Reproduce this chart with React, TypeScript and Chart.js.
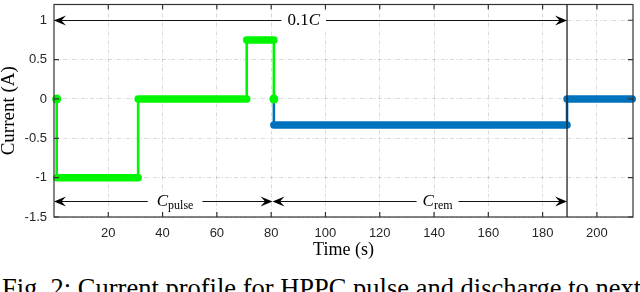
import React, { useEffect, useRef } from 'react';
import { Chart, registerables } from 'chart.js';

Chart.register(...registerables);

// ---- data ----
const pulseTime = [1, 1, 31, 31, 71, 71, 81, 81];
const pulseCurrent = [0, -1, -1, 0, 0, 0.75, 0.75, 0];
const remTime = [81, 81, 189, 189, 213];
const remCurrent = [0, -0.33, -0.33, 0, 0];

const xTickValues = [20, 40, 60, 80, 100, 120, 140, 160, 180, 200];
const yTickValues = [-1.5, -1, -0.5, 0, 0.5, 1];
const xLimits = [0, 213.3];
const yLimits = [-1.5, 1.2];

const dividerTime = 189;
// spans: [from, to, level, labelAt]
const spanTotal = [0, 189, 1, 92];
const spanPulse = [0, 80.5, -1.3, 44.6];
const spanRem = [80.5, 189, -1.3, 141.3];
const labelTotal = [{ t: '0.1', italic: false, sub: false }, { t: 'C', italic: true, sub: false }];
const labelPulse = [{ t: 'C', italic: true, sub: false }, { t: 'pulse', italic: false, sub: true }];
const labelRem = [{ t: 'C', italic: true, sub: false }, { t: 'rem', italic: false, sub: true }];

const GREEN = '#00f500';
const BLUE = '#0072BD';
const AXIS = '#333333';
const SERIF = '"Liberation Serif", "DejaVu Serif", serif';
const SANS = '"Liberation Sans", Arial, sans-serif';

type Part = { t: string; italic: boolean; sub: boolean };

function drawHead(ctx: CanvasRenderingContext2D, tx: number, ty: number, d: number) {
  const L = 12, W = 5;
  ctx.beginPath();
  ctx.moveTo(tx, ty);
  ctx.lineTo(tx - d * L, ty - W);
  ctx.lineTo(tx - d * L * 0.62, ty);
  ctx.lineTo(tx - d * L, ty + W);
  ctx.closePath();
  ctx.fill();
}

function drawLabel(ctx: CanvasRenderingContext2D, parts: Part[], cx: number, cy: number, pad: number) {
  const fontOf = (p: Part) => `${p.italic ? 'italic ' : ''}${p.sub ? 12 : 17}px ${SERIF}`;
  let total = 0;
  const widths = parts.map((p) => {
    ctx.font = fontOf(p);
    const w = ctx.measureText(p.t).width;
    total += w;
    return w;
  });
  ctx.fillStyle = '#ffffff';
  ctx.fillRect(cx - total / 2 - pad, cy - 9, total + 2 * pad, 18);
  ctx.fillStyle = '#000000';
  ctx.textBaseline = 'middle';
  ctx.textAlign = 'left';
  let x = cx - total / 2;
  parts.forEach((p, i) => {
    ctx.font = fontOf(p);
    ctx.fillText(p.t, x, cy + (p.sub ? 4 : 0));
    x += widths[i];
  });
}

const annotPlugin = {
  id: 'annot',
  afterDatasetsDraw(chart: any) {
    const { ctx, chartArea: a, scales } = chart;
    const x = scales.x, y = scales.y;
    ctx.save();
    // box
    ctx.strokeStyle = AXIS;
    ctx.lineWidth = 1.2;
    ctx.strokeRect(a.left, a.top, a.right - a.left, a.bottom - a.top);
    // inward ticks
    ctx.beginPath();
    xTickValues.forEach((v) => {
      const px = x.getPixelForValue(v);
      ctx.moveTo(px, a.bottom);
      ctx.lineTo(px, a.bottom - 5);
      ctx.moveTo(px, a.top);
      ctx.lineTo(px, a.top + 5);
    });
    yTickValues.forEach((v) => {
      const py = y.getPixelForValue(v);
      ctx.moveTo(a.left, py);
      ctx.lineTo(a.left + 5, py);
      ctx.moveTo(a.right, py);
      ctx.lineTo(a.right - 5, py);
    });
    ctx.stroke();
    // divider
    const dx = x.getPixelForValue(dividerTime);
    ctx.strokeStyle = '#222222';
    ctx.lineWidth = 1.3;
    ctx.beginPath();
    ctx.moveTo(dx, a.top);
    ctx.lineTo(dx, a.bottom);
    ctx.stroke();
    // spans
    const spans: [number[], Part[], number][] = [
      [spanTotal, labelTotal, 6],
      [spanPulse, labelPulse, 9],
      [spanRem, labelRem, 6],
    ];
    spans.forEach(([s, parts, pad]) => {
      const x1 = x.getPixelForValue(s[0]);
      const x2 = x.getPixelForValue(s[1]);
      const py = Math.round(y.getPixelForValue(s[2])) + 0.5;
      ctx.strokeStyle = '#111111';
      ctx.fillStyle = '#000000';
      ctx.lineWidth = 1;
      ctx.beginPath();
      ctx.moveTo(x1 + 4, py);
      ctx.lineTo(x2 - 4, py);
      ctx.stroke();
      drawHead(ctx, x1, py, -1);
      drawHead(ctx, x2, py, 1);
      drawLabel(ctx, parts, x.getPixelForValue(s[3]), py, pad);
    });
    ctx.restore();
  },
};

const segWidth = (c: any) => (c.p0.parsed.y === c.p1.parsed.y ? 7.5 : 2.6);

export default function App() {
  const ref = useRef<HTMLCanvasElement | null>(null);
  useEffect(() => {
    if (!ref.current) return;
    const gridCommon = {
      color: 'rgba(38,38,38,0.17)',
      lineWidth: 1,
      drawTicks: false,
    };
    const chart = new Chart(ref.current, {
      type: 'line',
      data: {
        datasets: [
          {
            data: pulseTime.map((t, i) => ({ x: t, y: pulseCurrent[i] })),
            borderColor: GREEN,
            backgroundColor: GREEN,
            borderCapStyle: 'round',
            borderJoinStyle: 'round',
            borderWidth: 2.6,
            segment: { borderWidth: segWidth },
            pointRadius: (c: any) => (c.dataIndex === 0 || c.dataIndex === pulseTime.length - 1 ? 4.5 : 0),
            pointBackgroundColor: GREEN,
            pointBorderWidth: 0,
            tension: 0,
            clip: 8,
          } as any,
          {
            data: remTime.map((t, i) => ({ x: t, y: remCurrent[i] })),
            borderColor: BLUE,
            backgroundColor: BLUE,
            borderCapStyle: 'round',
            borderJoinStyle: 'round',
            borderWidth: 2.6,
            segment: { borderWidth: segWidth },
            pointRadius: 0,
            tension: 0,
            clip: 8,
          } as any,
        ],
      },
      options: {
        animation: false,
        responsive: false,
        events: [],
        layout: { padding: { left: 0, right: 7, top: 2, bottom: 0 } },
        plugins: { legend: { display: false }, tooltip: { enabled: false } },
        scales: {
          x: {
            type: 'linear',
            min: xLimits[0],
            max: xLimits[1],
            afterBuildTicks: (s: any) => {
              s.ticks = xTickValues.map((v) => ({ value: v }));
            },
            afterFit: (s: any) => {
              s.height = 45;
              s.paddingLeft = 0;
              s.paddingRight = 0;
            },
            grid: gridCommon,
            border: { display: false, dash: [4, 2, 1, 2] },
            ticks: {
              color: '#262626',
              font: { family: SANS, size: 13 },
              padding: 9,
              maxRotation: 0,
              callback: (v: any) => String(v),
            },
            title: {
              display: true,
              text: 'Time (s)',
              color: '#000000',
              font: { family: SERIF, size: 18, lineHeight: 1 },
              padding: { top: 0, bottom: 2.5 },
            },
          },
          y: {
            type: 'linear',
            min: yLimits[0],
            max: yLimits[1],
            afterBuildTicks: (s: any) => {
              s.ticks = yTickValues.map((v) => ({ value: v }));
            },
            afterFit: (s: any) => {
              s.width = 54;
              s.paddingTop = 0;
              s.paddingBottom = 0;
            },
            grid: gridCommon,
            border: { display: false, dash: [4, 2, 1, 2] },
            ticks: {
              color: '#262626',
              font: { family: SANS, size: 13 },
              padding: 7,
              callback: (v: any) => String(v),
            },
            title: {
              display: true,
              text: 'Current (A)',
              color: '#000000',
              font: { family: SERIF, size: 19, lineHeight: 0.9 },
              padding: { top: 0, bottom: 0 },
            },
          },
        },
      },
      plugins: [annotPlugin],
    } as any);
    return () => chart.destroy();
  }, []);

  return (
    <div
      style={{
        position: 'fixed',
        left: 0,
        top: 0,
        width: 640,
        height: 292,
        overflow: 'hidden',
        background: '#ffffff',
      }}
    >
      <canvas ref={ref} width={640} height={262} style={{ display: 'block', width: 640, height: 262 }} />
      <div
        style={{
          position: 'absolute',
          left: 2,
          top: 273,
          whiteSpace: 'nowrap',
          fontFamily: SERIF,
          fontSize: 26.5,
          color: '#000000',
        }}
      >
        Fig. 2: Current profile for HPPC pulse and discharge to next
      </div>
    </div>
  );
}
